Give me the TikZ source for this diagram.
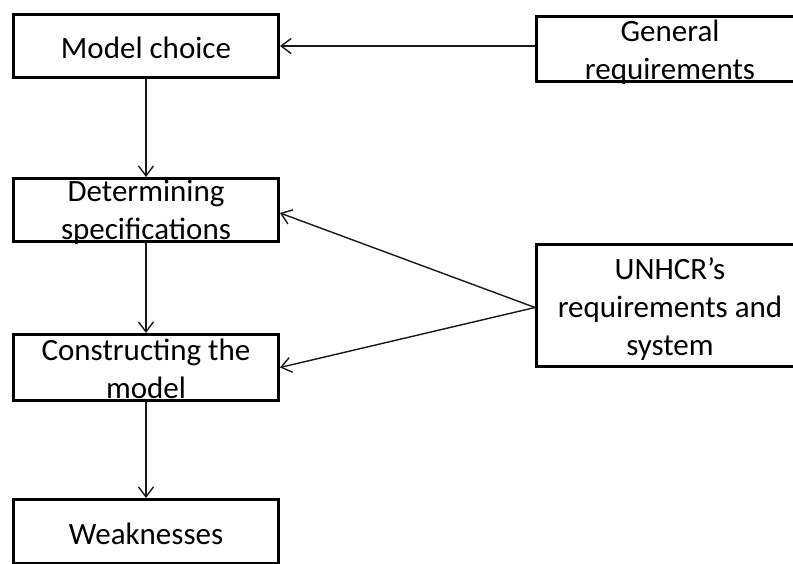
\documentclass[tikz,border=0pt]{standalone}
\usepackage{fontspec}
\setmainfont{Carlito}
\usetikzlibrary{arrows.meta}

\tikzset{
  stepbox/.style={draw=black, line width=3pt, fill=white, inner sep=0pt,
    minimum width=265pt},
  boxtext/.style={inner sep=0pt, align=center,
    font=\fontsize{31}{38}\selectfont},
  flow/.style={draw=black!90, line width=1.4pt,
    -{Straight Barb[length=10pt,width=15pt,line width=1.4pt]}},
}

\begin{document}
\begin{tikzpicture}[x=1pt,y=-1pt]
  \useasboundingbox (0,0) rectangle (793,563);
  \clip (0,0) rectangle (793,563);

  % left column: the modelling steps
  \node[stepbox, minimum height=63pt] (M) at (146,46)    {};
  \node[stepbox, minimum height=63pt] (D) at (146,210)   {};
  \node[stepbox, minimum height=66pt] (C) at (146,367.5) {};
  \node[stepbox, minimum height=64pt] (W) at (146,531.5) {};

  % right column: inputs (running off the right edge)
  \node[stepbox, minimum width=290pt, minimum height=65pt]  (G) at (681.5,49)    {};
  \node[stepbox, minimum width=290pt, minimum height=122pt] (U) at (681.5,305.5) {};

  % box captions
  \node[boxtext] (Mt) at ([yshift=-2pt]M.center) {Model choice};
  \node[boxtext] (Dt) at ([yshift=-2.5pt]D.center) {Determining\\specifications};
  \node[boxtext] (Ct) at ([yshift=-1.5pt]C.center) {Constructing the\\model};
  \node[boxtext] (Wt) at ([yshift=-2pt]W.center) {Weaknesses};
  \node[boxtext] (Gt) at ([xshift=-11.5pt,yshift=-3pt]G.center) {General\\requirements};
  \node[boxtext] (Ut) at ([xshift=-11.5pt,yshift=-4pt]U.center) {UNHCR’s\\requirements and\\system};

  % connectors
  \draw[flow] (M) -- (D);
  \draw[flow] (D) -- (C);
  \draw[flow] (C) -- (W);
  \draw[flow] (G.west |- M.east) -- (M.east);
  \draw[flow] ([yshift=-2pt]U.west) -- ([yshift=-3pt]D.east);
  \draw[flow] ([yshift=-2pt]U.west) -- (C.east);
\end{tikzpicture}
\end{document}
